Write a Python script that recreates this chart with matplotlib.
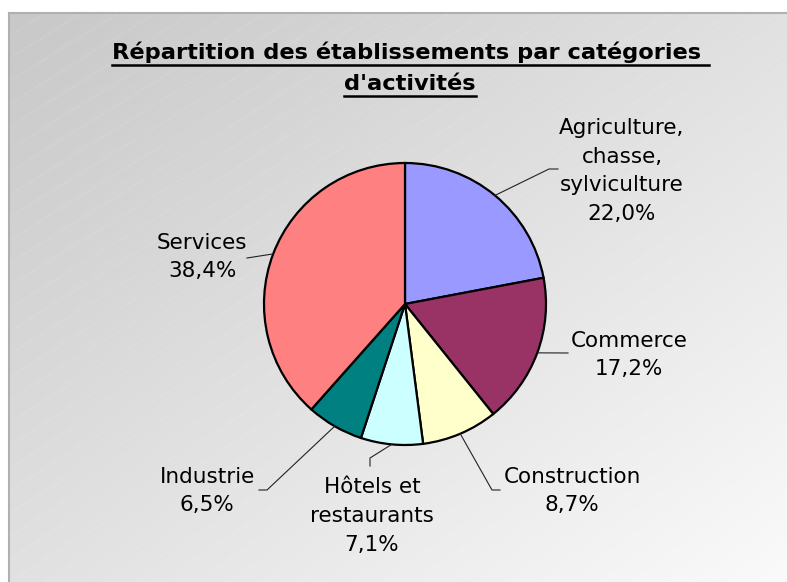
import numpy as np
import matplotlib.pyplot as plt
from matplotlib.lines import Line2D

# données
categories = ['Agriculture,\nchasse,\nsylviculture', 'Commerce', 'Construction',
              'Hôtels et\nrestaurants', 'Industrie', 'Services']
parts = [22.0, 17.2, 8.7, 7.1, 6.5, 38.4]
couleurs = ['#9999FF', '#993366', '#FFFFCC', '#CCFFFF', '#008080', '#FF8080']
titre = ["Répartition des établissements par catégories ", "d'activités"]

# position des étiquettes (centre du bloc de texte) et coudes des traits de rappel
pos_texte = [(622, 411), (629, 227), (572, 91), (372, 66), (207, 91), (202, 325)]
coudes = [[(549, 413), (558, 413)],
          [(568, 229)],
          [(492, 92), (500, 92)],
          [(370, 124), (370, 116)],
          [(267, 92), (259, 92)],
          [(247, 324)]]

W, H = 787, 582
fig = plt.figure(figsize=(W / 100, H / 100), dpi=100)
fig.patch.set_facecolor('white')

# fond en dégradé
x0, y0 = 9, 13
bg = fig.add_axes([x0 / W, 0, 1 - x0 / W, 1 - y0 / H])
u = np.linspace(0, 1, 400)
v = np.linspace(0, 1, 300)
U, V = np.meshgrid(u, v)
g = (200 + 50 * (U + V) / 2) / 255
bg.imshow(np.dstack([g, g, g]), aspect='auto', extent=[0, 1, 1, 0])
# hachures fines
for k in np.arange(-2, 2, 0.04):
    xs = np.array([0, 1])
    bg.plot(xs, 1 - (xs * 0.62 * (W - x0) / (H - y0) + k), color='white',
            lw=0.5, alpha=0.3, ls=(0, (1, 1)))
bg.set_xlim(0, 1)
bg.set_ylim(1, 0)
bg.axis('off')
fig.add_artist(Line2D([x0 / W, 1], [1 - y0 / H] * 2, color='#b0b0b0', lw=1.5))
fig.add_artist(Line2D([x0 / W] * 2, [0, 1 - y0 / H], color='#b0b0b0', lw=1.5))

ax = fig.add_axes([0, 0, 1, 1])
ax.set_xlim(0, W)
ax.set_ylim(0, H)
ax.axis('off')

cx, cy, r = 405, 278, 141
wedges, _ = ax.pie(parts, colors=couleurs, startangle=90, counterclock=False,
                   center=(cx, cy), radius=r, frame=True,
                   wedgeprops=dict(edgecolor='black', linewidth=1.6))
ax.set_xlim(0, W)
ax.set_ylim(0, H)
ax.axis('off')

for w, cat, p, (tx, ty), coude in zip(wedges, categories, parts, pos_texte, coudes):
    a = np.deg2rad((w.theta1 + w.theta2) / 2)
    pts = [(cx + r * np.cos(a), cy + r * np.sin(a))] + coude
    xs, ys = zip(*pts)
    ax.plot(xs, ys, color='#222222', lw=0.8)
    lab = cat + '\n' + f'{p:.1f}%'.replace('.', ',')
    ax.text(tx, ty, lab, ha='center', va='center', fontsize=15.5,
            linespacing=1.55, color='black')

# titre souligné
t_y = [H - 52, H - 84]
textes = []
for ligne, y in zip(titre, t_y):
    textes.append(ax.text(410, y, ligne, ha='center', va='center', fontsize=16.2,
                          fontweight='bold'))
fig.canvas.draw()
ren = fig.canvas.get_renderer()
for t in textes:
    bb = t.get_window_extent(ren)
    yl = bb.y0 - 2
    fig.add_artist(Line2D([bb.x0 / W, bb.x1 / W], [yl / H, yl / H],
                          color='black', lw=1.8))

fig.savefig('out.png', dpi=100)
